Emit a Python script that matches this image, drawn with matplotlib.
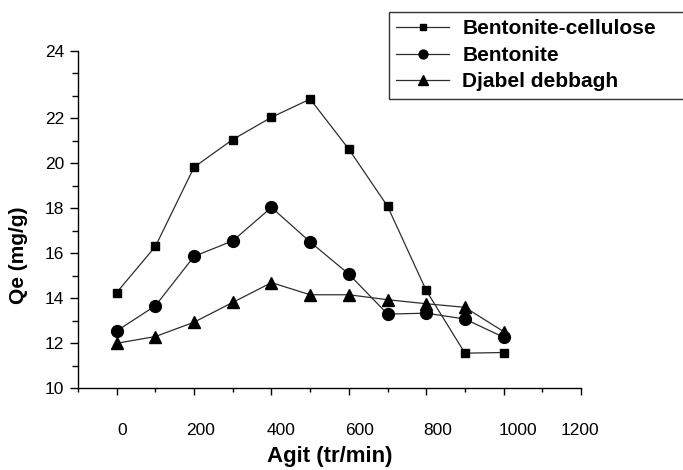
import matplotlib
matplotlib.use("Agg")
import matplotlib.pyplot as plt
from matplotlib.ticker import FixedLocator, MultipleLocator
import matplotlib.transforms as mtransforms

plt.rcParams['font.family'] = ['Liberation Sans', 'DejaVu Sans']

agit = [0, 100, 200, 300, 400, 500, 600, 700, 800, 900, 1000]
bent_cell = [14.25, 16.3, 19.83, 21.06, 22.05, 22.86, 20.63, 18.09, 14.34, 11.55, 11.58]
bentonite = [12.54, 13.66, 15.86, 16.55, 18.04, 16.5, 15.07, 13.29, 13.33, 13.07, 12.26]
djabel = [11.99, 12.29, 12.93, 13.81, 14.69, 14.15, 14.15, 13.93, 13.75, 13.59, 12.51]

series = [
    ("Bentonite-cellulose", bent_cell, "s", 6.2),
    ("Bentonite", bentonite, "o", 8.5),
    ("Djabel debbagh", djabel, "^", 9.0),
]

y_ticks = [10, 12, 14, 16, 18, 20, 22, 25]
y_tick_labels = ["10", "12", "14", "16", "18", "20", "22", "24"]
x_ticks = [0, 200, 400, 600, 800, 1000, 1200]

fig = plt.figure(figsize=(6.83, 4.70), dpi=100)
ax = fig.add_axes([78 / 683, 1 - 388 / 470, 503 / 683, 337 / 470])

handles = []
for name, vals, mk, ms in series:
    ln, = ax.plot(agit, vals, color="#2e2e2e", lw=0.9, marker=mk, ms=ms,
                  mfc="black", mec="black", label=name)
    handles.append(ln)

ax.set_xlim(-100, 1200)
ax.set_ylim(10, 25)

ax.yaxis.set_major_locator(FixedLocator(y_ticks))
ax.set_yticklabels(y_tick_labels)
ax.yaxis.set_minor_locator(FixedLocator([11, 13, 15, 17, 19, 21, 23, 24]))
ax.xaxis.set_major_locator(FixedLocator(x_ticks))
ax.xaxis.set_minor_locator(MultipleLocator(100))

for s in ["top", "right"]:
    ax.spines[s].set_visible(False)
for s in ["left", "bottom"]:
    ax.spines[s].set_linewidth(1.0)

ax.tick_params(axis="y", which="major", direction="out", length=6, width=1,
               labelsize=12.5, pad=4)
ax.tick_params(axis="y", which="minor", direction="out", length=4, width=1)
ax.tick_params(axis="x", which="major", direction="out", length=5, width=1,
               labelsize=12.5, pad=20)
ax.tick_params(axis="x", which="minor", direction="out", length=3, width=1)

# the x tick labels are nudged right of their ticks by differing amounts
nudges = [5, 6, 10, 11, 11, 14, -1]
for lbl, dx in zip(ax.get_xticklabels(), nudges):
    shift = mtransforms.ScaledTranslation(dx / 100, 0, fig.dpi_scale_trans)
    lbl.set_transform(lbl.get_transform() + shift)

ax.set_xlabel("Agit (tr/min)", fontsize=16, fontweight="bold")
ax.xaxis.set_label_coords(0.5, -0.172)
ax.set_ylabel("Qe (mg/g)", fontsize=15, fontweight="bold")
ax.yaxis.set_label_coords(-0.1, 0.395)

leg = fig.legend(handles=handles, loc="upper left",
                 bbox_to_anchor=(389 / 683, 1 - 97 / 470, 300 / 683, 85 / 470),
                 mode="expand",
                 prop={"weight": "bold", "size": 15}, frameon=True,
                 fancybox=False, borderpad=0.35, labelspacing=0.36,
                 handlelength=2.55, handletextpad=0.62, markerscale=0.75,
                 borderaxespad=0)
leg.get_frame().set_edgecolor("black")
leg.get_frame().set_linewidth(1.0)

fig.savefig("out.png", dpi=100)
